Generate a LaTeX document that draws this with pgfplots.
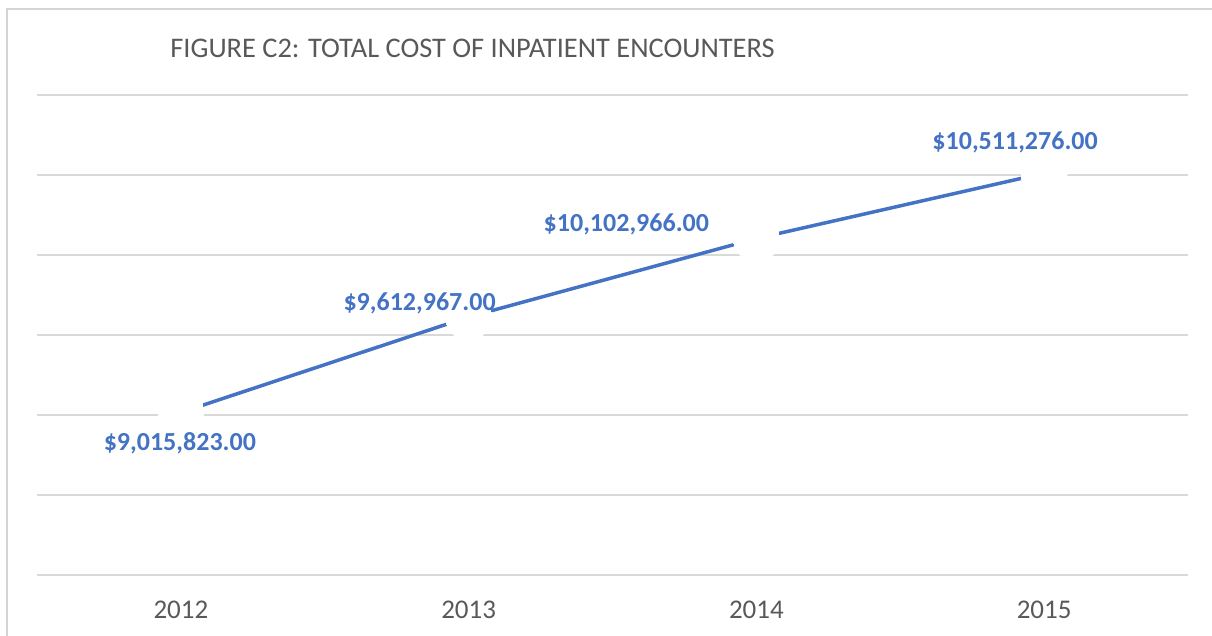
\documentclass[border=0pt]{standalone}
\usepackage{pgfplots}
\pgfplotsset{compat=1.18}
\usepackage{fontspec}
\setmainfont{Carlito}
\definecolor{lineblue}{HTML}{4472C4}
\definecolor{gridgrey}{HTML}{D9D9D9}
\definecolor{framegrey}{HTML}{D4D4D4}
\definecolor{textgrey}{HTML}{595959}
\tikzset{lbl/.style={text=lineblue, font=\bfseries\fontsize{13}{15}\selectfont, inner sep=0pt}}
\begin{document}
\begin{tikzpicture}
\useasboundingbox (0,0) rectangle (606pt,318pt);
\draw[framegrey, line width=1.3pt] (3.5pt,-2pt) -- (3.5pt,313.5pt) -- (608pt,313.5pt);
\node[anchor=west, inner sep=0pt, text=textgrey, font=\fontsize{14.2}{16}\selectfont] at (85pt,294pt) {FIGURE C2: TOTAL COST OF INPATIENT ENCOUNTERS};
\begin{axis}[
  at={(18.5pt,30.5pt)}, anchor=south west,
  scale only axis, width=575.5pt, height=240pt,
  xmin=-0.5, xmax=3.5, ymin=8000000, ymax=11000000,
  ytick={8000000,8500000,9000000,9500000,10000000,10500000,11000000},
  yticklabels={}, scaled y ticks=false,
  ymajorgrids, grid style={gridgrey, line width=0.75pt},
  axis line style={draw=none},
  major tick length=0pt,
  xtick={0,1,2,3}, xticklabels={2012,2013,2014,2015},
  xticklabel style={anchor=center, yshift=-17.5pt, text=textgrey, font=\fontsize{13.5}{15}\selectfont},
  clip=false,
]
\addplot[lineblue, line width=1.75pt, mark=*, mark size=11.5pt, mark options={fill=white, draw=white, line width=0pt}]
  coordinates {(0,9015823) (1,9612967) (2,10102966) (3,10511276)};
\coordinate (p0) at (axis cs:0,9015823);
\coordinate (p1) at (axis cs:1,9612967);
\coordinate (p2) at (axis cs:2,10102966);
\coordinate (p3) at (axis cs:3,10511276);
\end{axis}
\node[lbl, xshift=-0.5pt, yshift=-15.5pt] at (p0) {\$9,015,823.00};
\node[lbl, xshift=-24.5pt, yshift=7pt] at (p1) {\$9,612,967.00};
\node[lbl, xshift=-65pt, yshift=7pt] at (p2) {\$10,102,966.00};
\node[lbl, xshift=-14.5pt, yshift=15.5pt] at (p3) {\$10,511,276.00};
\end{tikzpicture}
\end{document}
